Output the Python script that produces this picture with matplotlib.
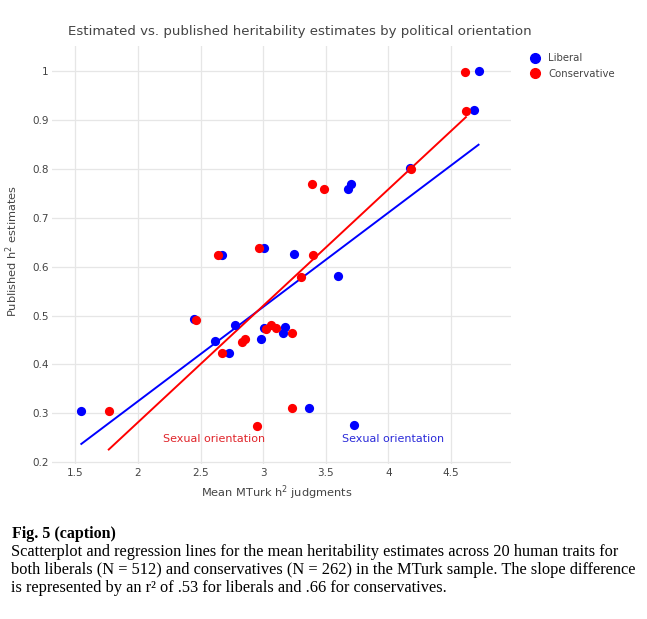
import numpy as np
import matplotlib
matplotlib.use('Agg')
import matplotlib.pyplot as plt
from matplotlib.lines import Line2D

# mean MTurk h2 judgments (x) and published h2 estimates (y)
lib_x = [1.548, 2.450, 2.616, 2.669, 2.730, 2.778, 2.986, 3.007, 3.010, 3.157,
         3.170, 3.249, 3.369, 3.598, 3.678, 3.697, 3.728, 4.168, 4.685, 4.719]
lib_y = [0.305, 0.492, 0.447, 0.624, 0.423, 0.481, 0.452, 0.475, 0.639, 0.465,
         0.476, 0.626, 0.310, 0.581, 0.759, 0.770, 0.275, 0.802, 0.920, 1.000]
con_x = [1.767, 2.464, 2.642, 2.672, 2.834, 2.853, 2.954, 2.965, 3.026, 3.063,
         3.103, 3.226, 3.233, 3.303, 3.393, 3.396, 3.487, 4.176, 4.610, 4.618]
con_y = [0.305, 0.490, 0.624, 0.423, 0.446, 0.451, 0.274, 0.639, 0.473, 0.480,
         0.475, 0.310, 0.465, 0.579, 0.769, 0.624, 0.759, 0.800, 0.999, 0.919]

x_ticks = [1.5, 2, 2.5, 3, 3.5, 4, 4.5]
x_labels = ['1.5', '2', '2.5', '3', '3.5', '4', '4.5']
y_ticks = [0.2, 0.3, 0.4, 0.5, 0.6, 0.7, 0.8, 0.9, 1.0]
y_labels = ['0.2', '0.3', '0.4', '0.5', '0.6', '0.7', '0.8', '0.9', '1']

BLUE = '#0000ff'
RED = '#ff0000'
GREY = '#444444'
FONT = 'DejaVu Sans'
W, H = 647, 619

fig = plt.figure(figsize=(W / 100, H / 100), dpi=100)
ax = fig.add_axes([52 / W, 1 - 464 / H, (511 - 52) / W, (464 - 46) / H])

for xs, ys, col in [(lib_x, lib_y, BLUE), (con_x, con_y, RED)]:
    xs = np.array(xs)
    ys = np.array(ys)
    m, b = np.polyfit(xs, ys, 1)
    xx = np.array([xs.min(), xs.max()])
    ax.plot(xx, m * xx + b, color=col, lw=1.4, zorder=2)

ax.scatter(lib_x, lib_y, s=44, color=BLUE, zorder=3, linewidths=0)
ax.scatter(con_x, con_y, s=44, color=RED, zorder=4, linewidths=0)

ax.text(2.607, 0.247, 'Sexual orientation', color='#e0242a', fontsize=8,
        family=FONT, ha='center', va='center')
ax.text(4.04, 0.247, 'Sexual orientation', color='#2b2bd9', fontsize=8,
        family=FONT, ha='center', va='center')

ax.set_xlim(1.314, 4.978)
ax.set_ylim(0.196, 1.052)
ax.set_xticks(x_ticks)
ax.set_xticklabels(x_labels)
ax.set_yticks(y_ticks)
ax.set_yticklabels(y_labels)
ax.tick_params(length=0, labelsize=7.5, labelcolor=GREY)
ax.tick_params(axis='x', pad=3)
ax.tick_params(axis='y', pad=2.5)
for lab in ax.get_xticklabels() + ax.get_yticklabels():
    lab.set_family(FONT)
for s in ax.spines.values():
    s.set_visible(False)
ax.grid(True, color='#e6e6e6', lw=0.9)
ax.set_axisbelow(True)

fig.text(277 / W, 1 - 493 / H, 'Mean MTurk h$^2$ judgments', fontsize=8.2,
         color=GREY, family=FONT, ha='center', va='center')
fig.text(12 / W, 1 - 251 / H, 'Published h$^2$ estimates', fontsize=8.2,
         color=GREY, family=FONT, ha='center', va='center', rotation=90)

fig.text(300 / W, 1 - 31 / H,
         'Estimated vs. published heritability estimates by political orientation',
         fontsize=9.6, color=GREY, family=FONT, ha='center', va='center')

handles = [Line2D([], [], marker='o', ls='', color=BLUE, markersize=7),
           Line2D([], [], marker='o', ls='', color=RED, markersize=7)]
fig.legend(handles, ['Liberal', 'Conservative'], loc='upper left',
           bbox_to_anchor=(521 / W, 1 - 49 / H), frameon=False,
           prop={'family': FONT, 'size': 7.3}, labelcolor=GREY,
           handletextpad=0.3, labelspacing=0.55, borderaxespad=0)

fig.text(12 / W, 1 - 538 / H, 'Fig. 5 (caption)', fontsize=11.5,
         family='Liberation Serif', weight='bold', va='baseline')
caption = ['Scatterplot and regression lines for the mean heritability estimates across 20 human traits for',
           'both liberals (N = 512) and conservatives (N = 262) in the MTurk sample. The slope difference',
           'is represented by an r\u00b2 of .53 for liberals and .66 for conservatives.']
for i, line in enumerate(caption):
    fig.text(11 / W, 1 - (556 + 18 * i) / H, line, fontsize=11.75,
             family='Liberation Serif', va='baseline')

fig.savefig('out.png', dpi=100)
